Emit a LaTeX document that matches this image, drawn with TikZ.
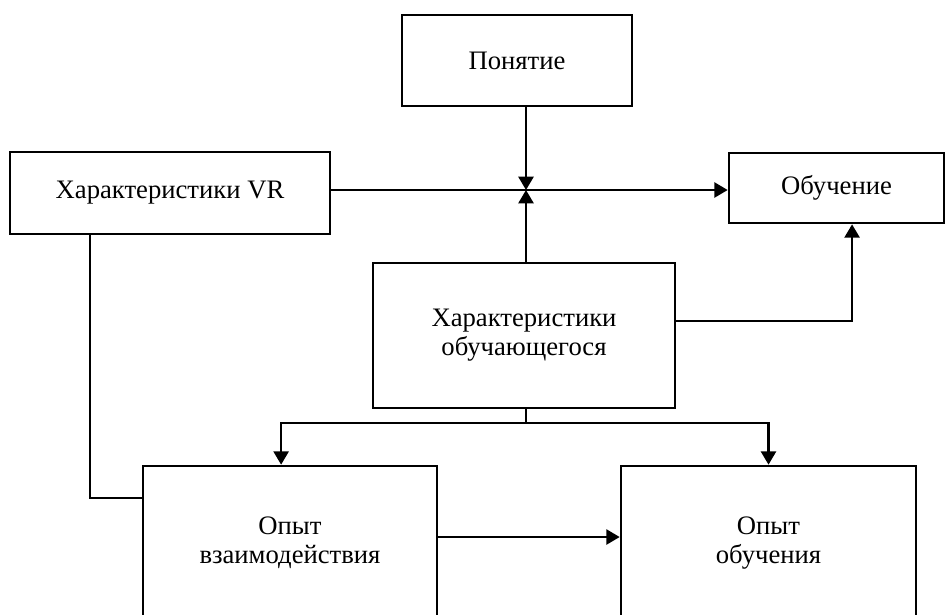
\documentclass[tikz,border=0pt]{standalone}
\usepackage{fontspec}
\setmainfont{Liberation Serif}
\usetikzlibrary{arrows.meta}

\begin{document}
\begin{tikzpicture}[x=0.45pt,y=-0.45pt,
    box/.style={draw,line width=1.2pt,align=center,inner sep=0pt,font=\fontsize{12}{13}\selectfont},
    link/.style={line width=1pt},
    arr/.style={line width=1pt,-{Triangle[length=6pt,width=6.8pt]}}]
    \useasboundingbox (0,0) rectangle (948,614);
    \clip (0,0) rectangle (948,614);

    \node[box,minimum width=103.5pt,minimum height=41pt] (pon) at (517,60.5) {Понятие};
    \node[box,minimum width=144pt,minimum height=36.9pt] (vr) at (170,193) {Характеристики VR};
    \node[box,minimum width=96.75pt,minimum height=31.5pt] (obu) at (836.5,188) {Обучение};
    \node[box,minimum width=135.9pt,minimum height=65.25pt] (uch) at (524,335.5) {Характеристики\\обучающегося};
    \node[box,minimum width=132.3pt,minimum height=69.3pt] (vz) at (290,543) {Опыт\\взаимодействия};
    \node[box,minimum width=132.75pt,minimum height=69.3pt] (oo) at (768.5,543) {Опыт\\обучения};

    \coordinate (jn) at (526,190);
    \draw[arr] (vr.east |- jn) -- (obu.west |- jn);
    \draw[arr] (pon.south -| jn) -- (jn);
    \draw[arr] (uch.north -| jn) -- (jn);
    \draw[arr] ([yshift=6.5pt]uch.east) -| ([xshift=7pt]obu.south);

    \draw[link] (uch.south -| jn) -- ++(0,14) coordinate (br);
    \draw[arr] (br) -| ([xshift=-4pt]vz.north);
    \draw[arr] (br) -| (oo.north);

    \draw[link] ([xshift=-36pt]vr.south) |- ([yshift=20.25pt]vz.west);
    \draw[arr] ([yshift=2.7pt]vz.east) -- ([yshift=2.7pt]oo.west);
\end{tikzpicture}
\end{document}
